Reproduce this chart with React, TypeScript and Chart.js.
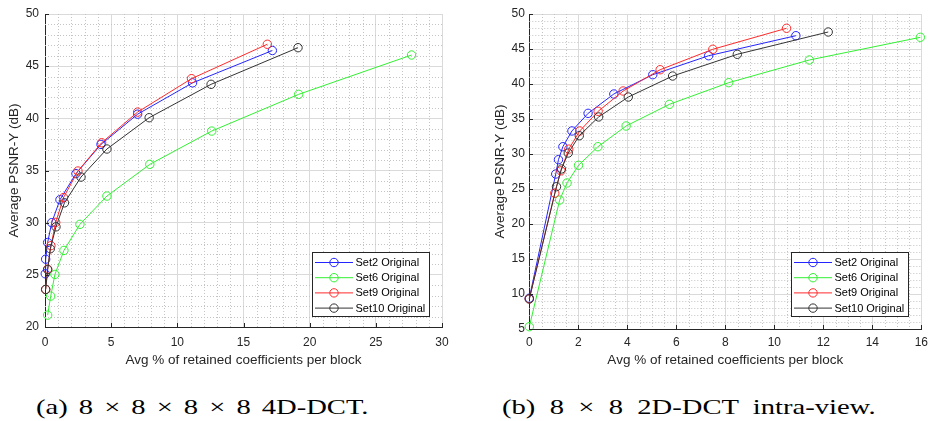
import React, { useEffect, useRef } from 'react';
import { Chart, registerables } from 'chart.js';

Chart.register(...registerables);

const FONT = "'Liberation Sans', Arial, Helvetica, sans-serif";
const SERIF = "'Liberation Serif', 'Times New Roman', serif";
const AXIS_COLOR = '#262626';

const seriesLabels = ['Set2 Original', 'Set6 Original', 'Set9 Original', 'Set10 Original'];
const seriesColors = ['#2424ff', '#33f033', '#ff2a2a', '#333333'];

const xTitle = 'Avg % of retained coefficients per block';
const yTitle = 'Average PSNR-Y (dB)';
const captionA = '(a) 8 × 8 × 8 × 8 4D-DCT.';
const captionB = '(b) 8 × 8 2D-DCT intra-view.';

// ---- Panel (a): 8x8x8x8 4D-DCT ----
const aXTicks = [0, 5, 10, 15, 20, 25, 30];
const aYTicks = [20, 25, 30, 35, 40, 45, 50];
const aXMinorStep = 1;
const aYMinorStep = 1;

const aSet2X = [0.02, 0.05, 0.2, 0.51, 1.13, 2.34, 4.23, 7.0, 11.15, 17.18];
const aSet2Y = [25.1, 26.5, 28.1, 30.0, 32.2, 34.7, 37.5, 40.4, 43.4, 46.5];
const aSet6X = [0.2, 0.43, 0.75, 1.43, 2.64, 4.68, 7.92, 12.6, 19.17, 27.7];
const aSet6Y = [21.14, 22.96, 25.04, 27.34, 29.84, 32.55, 35.59, 38.78, 42.3, 46.07];
const aSet9X = [0.05, 0.2, 0.45, 0.81, 1.4, 2.49, 4.28, 7.0, 11.07, 16.8];
const aSet9Y = [23.6, 25.55, 27.8, 30.03, 32.4, 34.95, 37.66, 40.6, 43.8, 47.1];
const aSet10X = [0.05, 0.2, 0.4, 0.83, 1.47, 2.72, 4.68, 7.87, 12.55, 19.12];
const aSet10Y = [23.6, 25.5, 27.5, 29.6, 31.9, 34.37, 37.06, 40.06, 43.26, 46.77];

// ---- Panel (b): 8x8 2D-DCT intra-view ----
const bXTicks = [0, 2, 4, 6, 8, 10, 12, 14, 16];
const bYTicks = [5, 10, 15, 20, 25, 30, 35, 40, 45, 50];
const bXMinorStep = 0.5;
const bYMinorStep = 1;

const bSet2X = [0, 1.08, 1.19, 1.37, 1.74, 2.4, 3.45, 5.04, 7.32, 10.88];
const bSet2Y = [9.4, 27.14, 29.19, 31.04, 33.29, 35.81, 38.57, 41.33, 44.04, 46.9];
const bSet6X = [0, 1.24, 1.54, 2.01, 2.8, 3.95, 5.72, 8.14, 11.43, 15.96];
const bSet6Y = [5.33, 23.43, 25.86, 28.39, 31.04, 34.0, 37.1, 40.19, 43.43, 46.67];
const bSet9X = [0, 1.04, 1.29, 1.61, 2.06, 2.81, 3.83, 5.34, 7.49, 10.5];
const bSet9Y = [9.3, 24.4, 27.6, 30.7, 33.29, 36.1, 39.0, 42.04, 44.96, 47.96];
const bSet10X = [0, 1.11, 1.31, 1.59, 2.04, 2.83, 4.04, 5.85, 8.49, 12.2];
const bSet10Y = [9.3, 25.33, 27.86, 30.14, 32.61, 35.29, 38.14, 41.14, 44.24, 47.43];

type Series = { x: number[]; y: number[] };
type PanelCfg = {
  width: number;
  height: number;
  xTicks: number[];
  yTicks: number[];
  xMinor: number;
  yMinor: number;
  series: Series[];
  padLeft: number;
  padTop: number;
  padRight: number;
  yAxisWidth: number;
  xAxisHeight: number;
  yTitlePad: number;
  yTickPad: number;
  xTickPad: number;
  legendRight: number;
  legendBottom: number;
};

const minorGridPlugin = {
  id: 'minorGrid',
  beforeDatasetsDraw(chart: any, _args: any, opts: any) {
    const { ctx, chartArea: a, scales } = chart;
    const xs = scales.x;
    const ys = scales.y;
    ctx.save();
    ctx.strokeStyle = '#c4c4c4';
    ctx.lineWidth = 1;
    ctx.setLineDash([1, 2]);
    const nx = Math.round((xs.max - xs.min) / opts.xStep);
    for (let i = 0; i <= nx; i++) {
      const v = xs.min + i * opts.xStep;
      if (opts.xMajor.some((m: number) => Math.abs(m - v) < 1e-9)) continue;
      const px = Math.round(xs.getPixelForValue(v)) + 0.5;
      ctx.beginPath();
      ctx.moveTo(px, a.top);
      ctx.lineTo(px, a.bottom);
      ctx.stroke();
    }
    const ny = Math.round((ys.max - ys.min) / opts.yStep);
    for (let i = 0; i <= ny; i++) {
      const v = ys.min + i * opts.yStep;
      if (opts.yMajor.some((m: number) => Math.abs(m - v) < 1e-9)) continue;
      const py = Math.round(ys.getPixelForValue(v)) + 0.5;
      ctx.beginPath();
      ctx.moveTo(a.left, py);
      ctx.lineTo(a.right, py);
      ctx.stroke();
    }
    ctx.restore();
  },
};

const axisTicksPlugin = {
  id: 'axisTicks',
  afterDraw(chart: any) {
    const { ctx, chartArea: a, scales } = chart;
    const len = 4;
    ctx.save();
    ctx.strokeStyle = AXIS_COLOR;
    ctx.lineWidth = 1;
    scales.x.ticks.forEach((t: any) => {
      const px = Math.round(scales.x.getPixelForValue(t.value)) + 0.5;
      ctx.beginPath();
      ctx.moveTo(px, Math.round(a.bottom));
      ctx.lineTo(px, Math.round(a.bottom) - len);
      ctx.stroke();
    });
    scales.y.ticks.forEach((t: any) => {
      const py = Math.round(scales.y.getPixelForValue(t.value)) + 0.5;
      ctx.beginPath();
      ctx.moveTo(Math.round(a.left), py);
      ctx.lineTo(Math.round(a.left) + len, py);
      ctx.stroke();
    });
    ctx.restore();
  },
};

const legendBoxPlugin = {
  id: 'legendBox',
  afterDraw(chart: any, _args: any, opts: any) {
    const { ctx, chartArea: a } = chart;
    const w = 117;
    const h = 64;
    const bx = Math.round(a.right - opts.right - w) + 0.5;
    const by = Math.round(a.bottom - opts.bottom - h) + 0.5;
    ctx.save();
    ctx.fillStyle = '#ffffff';
    ctx.fillRect(bx, by, w, h);
    ctx.strokeStyle = AXIS_COLOR;
    ctx.lineWidth = 1;
    ctx.strokeRect(bx, by, w, h);
    chart.data.datasets.forEach((ds: any, i: number) => {
      const y = by + 10 + i * 15.2;
      ctx.strokeStyle = ds.borderColor;
      ctx.lineWidth = 1;
      ctx.beginPath();
      ctx.moveTo(bx + 2.5, y);
      ctx.lineTo(bx + 40.5, y);
      ctx.stroke();
      ctx.beginPath();
      ctx.arc(bx + 21.5, y, 4.2, 0, Math.PI * 2);
      ctx.stroke();
      ctx.fillStyle = '#000000';
      ctx.font = `11px ${FONT}`;
      ctx.textAlign = 'left';
      ctx.textBaseline = 'middle';
      ctx.fillText(ds.label, bx + 43, y + 0.5);
    });
    ctx.restore();
  },
};

function Panel({ cfg, left }: { cfg: PanelCfg; left: number }) {
  const ref = useRef<HTMLCanvasElement>(null);
  useEffect(() => {
    const c = cfg;
    const n = c.series.length;
    const chart = new Chart(ref.current as HTMLCanvasElement, {
      type: 'scatter',
      data: {
        datasets: c.series.map((s, i) => ({
          label: seriesLabels[i],
          data: s.x.map((x, j) => ({ x, y: s.y[j] })),
          showLine: true,
          borderColor: seriesColors[i],
          backgroundColor: 'rgba(0,0,0,0)',
          borderWidth: 1,
          pointRadius: 4.2,
          pointHoverRadius: 4.2,
          pointBorderWidth: 1,
          pointBorderColor: seriesColors[i],
          pointBackgroundColor: 'rgba(0,0,0,0)',
          clip: false,
          order: n - i,
        })),
      },
      options: {
        responsive: false,
        animation: false,
        events: [],
        layout: { padding: { left: c.padLeft, top: c.padTop, right: c.padRight, bottom: 0 } },
        plugins: {
          legend: { display: false },
          tooltip: { enabled: false },
          minorGrid: { xStep: c.xMinor, yStep: c.yMinor, xMajor: c.xTicks, yMajor: c.yTicks },
          legendBox: { right: c.legendRight, bottom: c.legendBottom },
        } as any,
        scales: {
          x: {
            type: 'linear',
            min: c.xTicks[0],
            max: c.xTicks[c.xTicks.length - 1],
            afterBuildTicks: (scale: any) => {
              scale.ticks = c.xTicks.map((v) => ({ value: v }));
            },
            afterFit: (scale: any) => {
              scale.height = c.xAxisHeight;
            },
            ticks: {
              autoSkip: false,
              maxRotation: 0,
              color: AXIS_COLOR,
              padding: c.xTickPad,
              font: { family: FONT, size: 12 },
              callback: (v: any) => String(v),
            },
            grid: { color: '#dadada', lineWidth: 1, drawTicks: false },
            border: { display: true, color: AXIS_COLOR, width: 1 },
            title: {
              display: true,
              text: xTitle,
              color: AXIS_COLOR,
              font: { family: FONT, size: 13.5 },
              padding: { top: 0, bottom: 4 },
            },
          },
          y: {
            type: 'linear',
            min: c.yTicks[0],
            max: c.yTicks[c.yTicks.length - 1],
            afterBuildTicks: (scale: any) => {
              scale.ticks = c.yTicks.map((v) => ({ value: v }));
            },
            afterFit: (scale: any) => {
              scale.width = c.yAxisWidth;
            },
            ticks: {
              autoSkip: false,
              color: AXIS_COLOR,
              padding: c.yTickPad,
              font: { family: FONT, size: 12 },
              callback: (v: any) => String(v),
            },
            grid: { color: '#dadada', lineWidth: 1, drawTicks: false },
            border: { display: true, color: AXIS_COLOR, width: 1 },
            title: {
              display: true,
              text: yTitle,
              color: AXIS_COLOR,
              font: { family: FONT, size: 13.5 },
              padding: { top: c.yTitlePad, bottom: 0 },
            },
          },
        },
      } as any,
      plugins: [minorGridPlugin, axisTicksPlugin, legendBoxPlugin],
    });
    return () => chart.destroy();
  }, [cfg]);
  return (
    <canvas
      ref={ref}
      width={cfg.width}
      height={cfg.height}
      style={{ position: 'absolute', left, top: 0, width: cfg.width, height: cfg.height }}
    />
  );
}

const cfgA: PanelCfg = {
  width: 460,
  height: 372,
  xTicks: aXTicks,
  yTicks: aYTicks,
  xMinor: aXMinorStep,
  yMinor: aYMinorStep,
  series: [
    { x: aSet2X, y: aSet2Y },
    { x: aSet6X, y: aSet6Y },
    { x: aSet9X, y: aSet9Y },
    { x: aSet10X, y: aSet10Y },
  ],
  padLeft: 0,
  padTop: 14,
  padRight: 18,
  yAxisWidth: 45,
  xAxisHeight: 45,
  yTitlePad: 6,
  yTickPad: 6,
  xTickPad: 8,
  legendRight: 12.7,
  legendBottom: 11.3,
};

const cfgB: PanelCfg = {
  width: 467,
  height: 372,
  xTicks: bXTicks,
  yTicks: bYTicks,
  xMinor: bXMinorStep,
  yMinor: bYMinorStep,
  series: [
    { x: bSet2X, y: bSet2Y },
    { x: bSet6X, y: bSet6Y },
    { x: bSet9X, y: bSet9Y },
    { x: bSet10X, y: bSet10Y },
  ],
  padLeft: 18,
  padTop: 14,
  padRight: 6,
  yAxisWidth: 44.3,
  xAxisHeight: 43,
  yTitlePad: 6.9,
  yTickPad: 4.5,
  xTickPad: 6,
  legendRight: 13,
  legendBottom: 13,
};

const captionStyle: React.CSSProperties = {
  position: 'absolute',
  top: 396,
  fontFamily: SERIF,
  fontSize: 22,
  lineHeight: '22px',
  whiteSpace: 'nowrap',
  color: '#000',
  transform: 'scaleX(1.3)',
  transformOrigin: 'left top',
};

export default function App() {
  return (
    <div style={{ position: 'absolute', left: 0, top: 0, width: 934, height: 421, background: '#fff', overflow: 'hidden' }}>
      <Panel cfg={cfgA} left={0} />
      <Panel cfg={cfgB} left={467} />
      <div style={{ ...captionStyle, left: 36, wordSpacing: '3px' }}>{captionA}</div>
      <div style={{ ...captionStyle, left: 502, wordSpacing: '5.5px' }}>{captionB}</div>
    </div>
  );
}
